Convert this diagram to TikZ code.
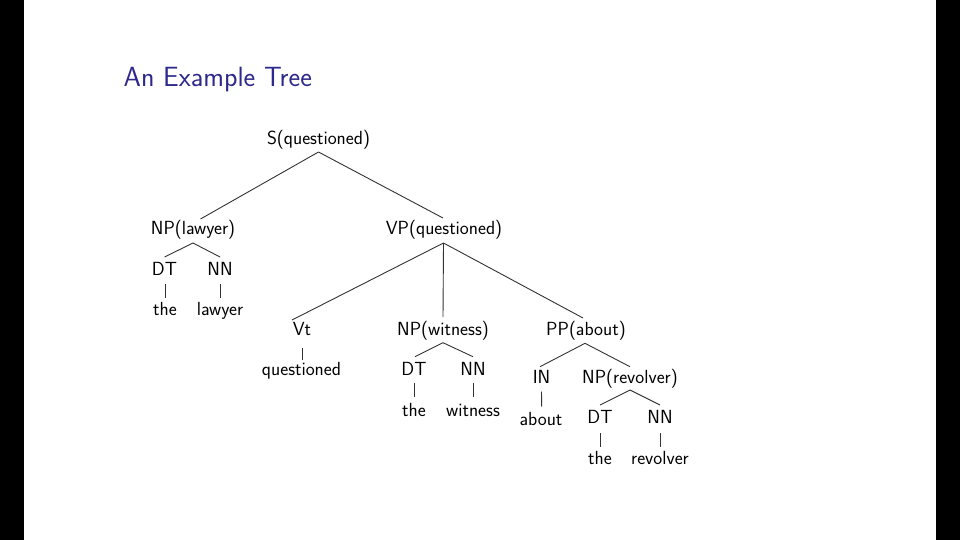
\documentclass[tikz,border=0pt]{standalone}
\usetikzlibrary{calc}
\definecolor{titleblue}{RGB}{45,40,140}
\definecolor{edgegray}{RGB}{50,50,50}
\begin{document}
\begin{tikzpicture}[x=1pt,y={(0pt,-1pt)},
  lbl/.style={font=\sffamily\fontsize{19}{22}\selectfont, inner sep=0pt, anchor=base},
  edge/.style={draw=edgegray, line width=0.9pt}]
\useasboundingbox (0,0) rectangle (960,540);
% slide frame: dark side bands
\fill[black] (0,0) rectangle (24,540);
\fill[black] (936,0) rectangle (960,540);

% frame title
\node[anchor=base west, inner sep=0pt, text=titleblue,
      font=\sffamily\fontsize{27.8}{32}\selectfont] (title) at (123.5,87) {An Example Tree};

% tree nodes (positioned by baseline)
\node[lbl] (S)    at (318.5,145) {S(questioned)};
\node[lbl] (NPl)  at (193,234.5) {NP(lawyer)};
\node[lbl] (VP)   at (444,234.5) {VP(questioned)};
\node[lbl] (DTa)  at (164.5,275) {DT};
\node[lbl] (NNa)  at (220,275)   {NN};
\node[lbl] (wthea) at (165,315)  {the};
\node[lbl] (wlawyer) at (220,315) {lawyer};
\node[lbl] (Vt)   at (302,335)   {Vt};
\node[lbl] (NPw)  at (443,335)   {NP(witness)};
\node[lbl] (PP)   at (586,335)   {PP(about)};
\node[lbl] (wquestioned) at (301.5,375) {questioned};
\node[lbl] (DTb)  at (414,375)   {DT};
\node[lbl] (NNb)  at (473,375)   {NN};
\node[lbl] (wtheb) at (414,416)  {the};
\node[lbl] (wwitness) at (473,416) {witness};
\node[lbl] (IN)   at (541.5,383) {IN};
\node[lbl] (NPr)  at (630,383)   {NP(revolver)};
\node[lbl] (wabout) at (541,425) {about};
\node[lbl] (DTc)  at (600,423)   {DT};
\node[lbl] (NNc)  at (660,423)   {NN};
\node[lbl] (wthec) at (600,464)  {the};
\node[lbl] (wrevolver) at (660,464) {revolver};

% branches
\draw[edge] ([yshift=-7pt]S.base) -- ([xshift=7.5pt,yshift=15.5pt]NPl.base);
\draw[edge] ([yshift=-7pt]S.base) -- ([xshift=-1pt,yshift=16.5pt]VP.base);

\draw[edge] ([yshift=-8.5pt]NPl.base) -- ([yshift=18pt]DTa.base);
\draw[edge] ([yshift=-8.5pt]NPl.base) -- ([yshift=18pt]NNa.base);
\draw[edge] ([xshift=0.5pt,yshift=-9pt]DTa.base) -- ([yshift=17pt]wthea.base);
\draw[edge] ([yshift=-9pt]NNa.base) -- ([yshift=17pt]wlawyer.base);

\draw[edge] ([xshift=-0.5pt,yshift=-8.5pt]VP.base) -- ([xshift=-10pt,yshift=15pt]Vt.base);
\draw[edge] ([xshift=-0.5pt,yshift=-8.5pt]VP.base) -- ([yshift=18pt]NPw.base);
\draw[edge] ([xshift=-0.5pt,yshift=-8.5pt]VP.base) -- ([xshift=-3pt,yshift=17pt]PP.base);

\draw[edge] ([xshift=0.7pt,yshift=-13pt]Vt.base) -- ([xshift=1.2pt,yshift=15pt]wquestioned.base);

\draw[edge] ([yshift=-7.7pt]NPw.base) -- ([xshift=1pt,yshift=18.3pt]DTb.base);
\draw[edge] ([yshift=-7.7pt]NPw.base) -- ([yshift=18.3pt]NNb.base);
\draw[edge] ([yshift=-8pt]DTb.base) -- ([yshift=19pt]wtheb.base);
\draw[edge] ([yshift=-8pt]NNb.base) -- ([yshift=19pt]wwitness.base);

\draw[edge] ([xshift=-1pt,yshift=-8.3pt]PP.base) -- ([xshift=-1.5pt,yshift=16.3pt]IN.base);
\draw[edge] ([xshift=-1pt,yshift=-8.3pt]PP.base) -- ([yshift=16.3pt]NPr.base);
\draw[edge] ([yshift=-8.7pt]IN.base) -- ([xshift=0.7pt,yshift=18.3pt]wabout.base);

\draw[edge] ([yshift=-7pt]NPr.base) -- ([yshift=18pt]DTc.base);
\draw[edge] ([yshift=-7pt]NPr.base) -- ([yshift=18pt]NNc.base);
\draw[edge] ([yshift=-10pt]DTc.base) -- ([yshift=17pt]wthec.base);
\draw[edge] ([yshift=-10pt]NNc.base) -- ([yshift=17pt]wrevolver.base);
\end{tikzpicture}
\end{document}
